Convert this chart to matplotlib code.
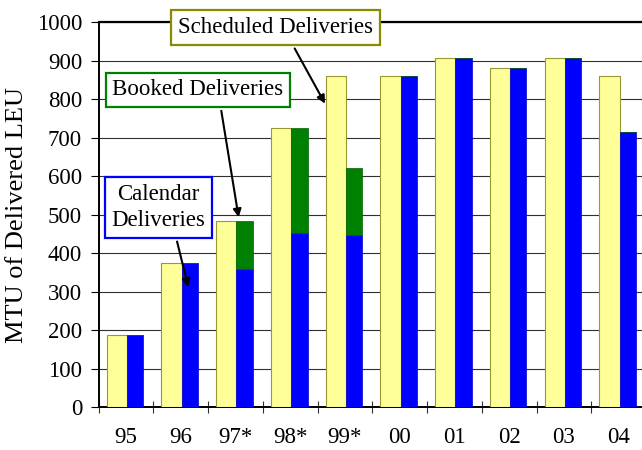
import matplotlib.pyplot as plt
import numpy as np

plt.rcParams['font.family'] = ['Liberation Serif', 'DejaVu Serif']

years = ['95', '96', '97*', '98*', '99*', '00', '01', '02', '03', '04']
scheduled = [187, 374, 483, 726, 860, 860, 907, 881, 907, 860]
booked = [187, 374, 483, 726, 622, 860, 907, 881, 907, 715]
calendar = [187, 374, 358, 452, 446, 860, 907, 881, 907, 715]

x = np.arange(len(years))
extra = np.array(booked) - np.array(calendar)

fig = plt.figure(figsize=(6.42, 4.5), dpi=100)
ax = fig.add_axes([98.7 / 642, 0.0949, (646 - 98.7) / 642, 0.856])

ax.bar(x + 0.146, scheduled, width=0.37, align='edge', color='#FFFF99',
       edgecolor='#999933', linewidth=0.8, zorder=3)
ax.bar(x + 0.516, calendar, width=0.30, align='edge', color='#0000FF',
       edgecolor='#0000CC', linewidth=0.5, zorder=3)
ax.bar(x + 0.516, extra, bottom=calendar, width=0.30, align='edge', color='#008000',
       edgecolor='#006000', linewidth=0.5, zorder=3)

ax.set_xlim(0, len(years))
ax.set_ylim(0, 1000)
ax.set_yticks(np.arange(0, 1001, 100))
ax.yaxis.grid(True, color='#303030', linewidth=0.8, zorder=0)
ax.set_axisbelow(True)

ax.set_xticks(np.arange(0, len(years) + 1))
ax.set_xticklabels([])
ax.set_xticks(x + 0.5, minor=True)
ax.set_xticklabels(years, minor=True)
ax.tick_params(axis='x', which='major', direction='inout', length=9, width=0.8, color='#303030')
ax.tick_params(axis='x', which='minor', length=0, pad=14, labelsize=16.5)
ax.tick_params(axis='y', direction='out', length=6, width=0.8, pad=6, labelsize=16.5)

ax.spines['right'].set_visible(False)
ax.spines['top'].set_linewidth(1.6)
ax.spines['left'].set_linewidth(1.4)
ax.spines['bottom'].set_linewidth(1.4)

ax.set_ylabel('MTU of Delivered LEU', fontsize=19, labelpad=6)

arrow = dict(arrowstyle='-|>', color='black', lw=1.5, mutation_scale=12)

ax.annotate('Scheduled Deliveries', xy=(4.16, 782), xytext=(3.23, 985),
            ha='center', va='center', fontsize=16.5, zorder=5,
            bbox=dict(boxstyle='square,pad=0.3', fc='white', ec='#8B8B00', lw=1.6),
            arrowprops=dict(arrow, relpos=(0.57, 0)))
ax.annotate('Booked Deliveries', xy=(2.565, 486), xytext=(1.815, 824),
            ha='center', va='center', fontsize=16.5, zorder=5,
            bbox=dict(boxstyle='square,pad=0.3', fc='white', ec='#008000', lw=1.6),
            arrowprops=dict(arrow, relpos=(0.626, 0)))
ax.annotate('Calendar\nDeliveries', xy=(1.65, 305), xytext=(1.093, 518),
            ha='center', va='center', fontsize=16.5, linespacing=1.3, zorder=5,
            bbox=dict(boxstyle='square,pad=0.3', fc='white', ec='#0000FF', lw=1.6),
            arrowprops=dict(arrow, relpos=(0.67, 0)))

fig.savefig('out.png', dpi=100)
